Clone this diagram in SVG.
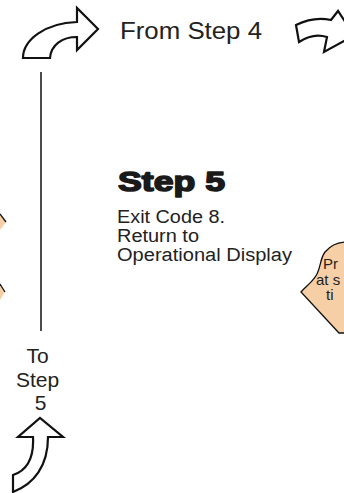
<svg xmlns="http://www.w3.org/2000/svg" width="344" height="493" viewBox="0 0 344 493">
<style>
.arrow{fill:#fff;stroke:#111;stroke-width:2.2;stroke-linejoin:miter}
.tan{fill:#f6cfa6;stroke:#111;stroke-width:1.3}
.txt{font-family:"Liberation Sans",Arial,sans-serif;fill:#222}
.head{font-family:"Liberation Sans",Arial,sans-serif;font-weight:bold;fill:#1a1a1a;stroke:#1a1a1a;stroke-width:1.6;stroke-linejoin:round}
</style>
<rect width="344" height="493" fill="#fff"/>
<g id="connectors">
<line x1="41" y1="72" x2="41" y2="331" stroke="#111" stroke-width="1.5"/>
</g>
<g id="arrow-from-left">
<path class="arrow" d="M23,58 C23,40 45,23 77,22 L77,8 L98,29 L77,50 L77,37 C62,37 51,45 50,58 Z"/>
</g>
<g id="label-from-step4">
<text class="txt" x="120" y="39" font-size="23.5" textLength="142" lengthAdjust="spacingAndGlyphs">From Step 4</text>
</g>
<g id="arrow-from-right">
<path class="arrow" d="M296,25 L299,42 C308,36 318,34 327,37 L324,52 L346,40 L346,23 L338,11 L331,20 C318,17 306,20 296,25 Z"/>
</g>
<g id="step5">
<text class="head" x="118" y="191" font-size="28" textLength="107" lengthAdjust="spacingAndGlyphs">Step 5</text>
<text class="txt" font-size="18">
<tspan x="117" y="223" textLength="108" lengthAdjust="spacingAndGlyphs">Exit Code 8.</tspan>
<tspan x="117" y="242" textLength="82" lengthAdjust="spacingAndGlyphs">Return to</tspan>
<tspan x="117" y="261" textLength="175" lengthAdjust="spacingAndGlyphs">Operational Display</tspan>
</text>
</g>
<g id="left-diamond">
<path d="M0,214 L6,222 L0,230 Z" fill="#f6cfa6"/>
<path d="M0,214 L6,222" stroke="#111" stroke-width="1.3" fill="none"/>
<path d="M0,284 L5,292 L0,300 Z" fill="#f6cfa6"/>
<path d="M0,284 L5,292" stroke="#111" stroke-width="1.3" fill="none"/>
</g>
<g id="press-node">
<path class="tan" d="M346,242 C336,242 330,246 325,252 C320,259 321,266 317,274 C313,282 305,287 301,292 L339,333 L346,333 Z"/>
<text class="txt" font-size="15" fill="#222">
<tspan x="323" y="269">Pr</tspan>
<tspan x="316" y="284.5">at s</tspan>
<tspan x="326" y="300">ti</tspan>
</text>
</g>
<g id="label-to-step5">
<text class="txt" font-size="21" text-anchor="middle">
<tspan x="40.5" y="363">To</tspan>
<tspan x="40.5" y="387">Step</tspan>
<tspan x="40.5" y="410">5</tspan>
</text>
</g>
<g id="arrow-to-step5">
<path class="arrow" d="M13,475 C28,470 34,456 33,437 L18,437 L40,418 L63,437 L48,437 C48,466 34,484 13,492 Z"/>
</g>
</svg>
